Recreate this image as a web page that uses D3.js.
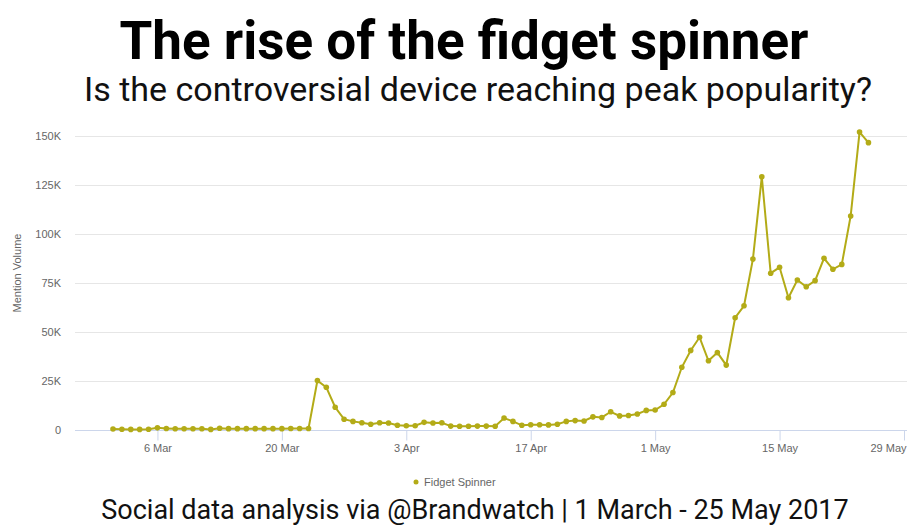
<!DOCTYPE html>
<html lang="en">
<head>
    <meta charset="UTF-8">
    <title>The rise of the fidget spinner</title>
    <script src="https://d3js.org/d3.v7.min.js"></script>
    <style>
        body {
            margin: 0;
            background: #fff;
        }
        .title {
            font-family: Roboto, sans-serif;
            font-weight: bold;
            fill: #000;
        }
        .sub, .foot {
            font-family: Roboto, sans-serif;
            fill: #111;
        }
        .axis text, .legend text, .ytitle {
            font-family: "Liberation Sans", Arial, sans-serif;
            font-size: 11px;
            fill: #666;
        }
        .grid line {
            stroke: #e6e6e6;
            stroke-width: 1px;
        }
        .line {
            fill: none;
            stroke: #b3ab17;
            stroke-width: 2px;
        }
        .dot {
            fill: #b3ab17;
        }
    </style>
</head>
<body>

    <svg width="907" height="526"></svg>

    <script>
        // Daily mention volume, 1 March - 25 May 2017 (thousands)
        const startDay = new Date(2017, 2, 1);
        const endDay = new Date(2017, 4, 25);
        const days = d3.timeDay.range(startDay, d3.timeDay.offset(endDay, 1));

        const mentionsK = [
            0.5, 0.4, 0.3, 0.3, 0.4, 1.1, 0.8, 0.6, 0.6, 0.6, 0.6, 0.3, 0.9, 0.7, 0.7, 0.7,
            0.7, 0.7, 0.7, 0.7, 0.8, 0.8, 0.8, 25.2, 21.8, 11.6, 5.5, 4.4, 3.7, 2.9, 3.7,
            3.6, 2.4, 2.2, 2.2, 3.9, 3.6, 3.7, 2.0, 1.9, 1.9, 2.0, 2.0, 1.9, 6.1, 4.4, 2.4,
            2.7, 2.7, 2.6, 2.9, 4.4, 4.8, 4.6, 6.7, 6.4, 9.3, 7.2, 7.4, 8.2, 10.0, 10.2,
            13.1, 19.1, 32.0, 40.6, 47.3, 35.3, 39.5, 33.1, 57.3, 63.4, 87.2, 129.2, 80.0,
            83.0, 67.5, 76.5, 73.1, 76.2, 87.6, 82.0, 84.5, 109.2, 152.0, 146.6
        ];

        const yTicks = [0, 25000, 50000, 75000, 100000, 125000, 150000];
        const xTicks = [
            new Date(2017, 2, 6), new Date(2017, 2, 20), new Date(2017, 3, 3),
            new Date(2017, 3, 17), new Date(2017, 4, 1), new Date(2017, 4, 15),
            new Date(2017, 4, 29)
        ];

        const seriesName = "Fidget Spinner";

        const data = days.map((d, i) => ({ date: d, value: mentionsK[i] * 1000 }));

        // layout
        const svg = d3.select("svg");
        const plotLeft = 75, plotRight = 907, plotTop = 136, plotBottom = 430;

        const x = d3.scaleTime()
            .domain([new Date(2017, 2, 1), new Date(2017, 4, 29)])
            .range([113, 904]);

        const y = d3.scaleLinear()
            .domain([0, 150000])
            .range([plotBottom, plotTop]);

        // titles
        svg.append("text").attr("class", "title")
            .attr("x", 464).attr("y", 59)
            .attr("text-anchor", "middle")
            .style("font-size", "53px")
            .text("The rise of the fidget spinner");

        svg.append("text").attr("class", "sub")
            .attr("x", 478).attr("y", 101)
            .attr("text-anchor", "middle")
            .style("font-size", "34px")
            .text("Is the controversial device reaching peak popularity?");

        svg.append("text").attr("class", "foot")
            .attr("x", 475).attr("y", 519)
            .attr("text-anchor", "middle")
            .style("font-size", "27px")
            .text("Social data analysis via @Brandwatch | 1 March - 25 May 2017");

        // grid
        svg.append("g").attr("class", "grid")
            .selectAll("line")
            .data(yTicks.slice(1))
            .enter()
            .append("line")
            .attr("x1", plotLeft).attr("x2", plotRight)
            .attr("y1", d => y(d) + 0.5).attr("y2", d => y(d) + 0.5);

        // y axis labels
        const yAxis = svg.append("g").attr("class", "axis")
            .attr("transform", `translate(${plotLeft - 14},0)`)
            .call(d3.axisLeft(y)
                .tickValues(yTicks)
                .tickSize(0)
                .tickFormat(d => d === 0 ? "0" : d / 1000 + "K"));
        yAxis.select(".domain").remove();
        yAxis.selectAll("text").attr("dy", "0.35em").attr("x", 0);

        svg.append("text").attr("class", "ytitle")
            .attr("transform", "translate(21,273) rotate(-90)")
            .attr("text-anchor", "middle")
            .text("Mention Volume");

        // x axis
        const xAxis = svg.append("g").attr("class", "axis")
            .attr("transform", `translate(0,${plotBottom + 0.5})`)
            .call(d3.axisBottom(x)
                .tickValues(xTicks)
                .tickSize(10)
                .tickSizeOuter(0)
                .tickPadding(4)
                .tickFormat(d3.timeFormat("%-d %b")));
        xAxis.select(".domain")
            .attr("d", `M${plotLeft},0H${plotRight}`)
            .attr("stroke", "#ccd6eb");
        xAxis.selectAll(".tick line").attr("stroke", "#ccd6eb");
        // keep the last label inside the frame, as the original does
        xAxis.selectAll(".tick text")
            .filter((d, i) => i === xTicks.length - 1)
            .attr("text-anchor", "end")
            .attr("x", 906 - x(xTicks[xTicks.length - 1]));

        // series
        const line = d3.line()
            .x(d => x(d.date))
            .y(d => y(d.value));

        svg.append("path")
            .datum(data)
            .attr("class", "line")
            .attr("d", line);

        svg.append("g")
            .selectAll("circle")
            .data(data)
            .enter()
            .append("circle")
            .attr("class", "dot")
            .attr("cx", d => x(d.date))
            .attr("cy", d => y(d.value))
            .attr("r", 2.8);

        // legend
        const legend = svg.append("g").attr("class", "legend")
            .attr("transform", "translate(416,482)");
        legend.append("circle").attr("r", 2.5).attr("fill", "#b3ab17");
        legend.append("text")
            .attr("x", 8).attr("dy", "0.35em")
            .text(seriesName);
    </script>

</body>
</html>
